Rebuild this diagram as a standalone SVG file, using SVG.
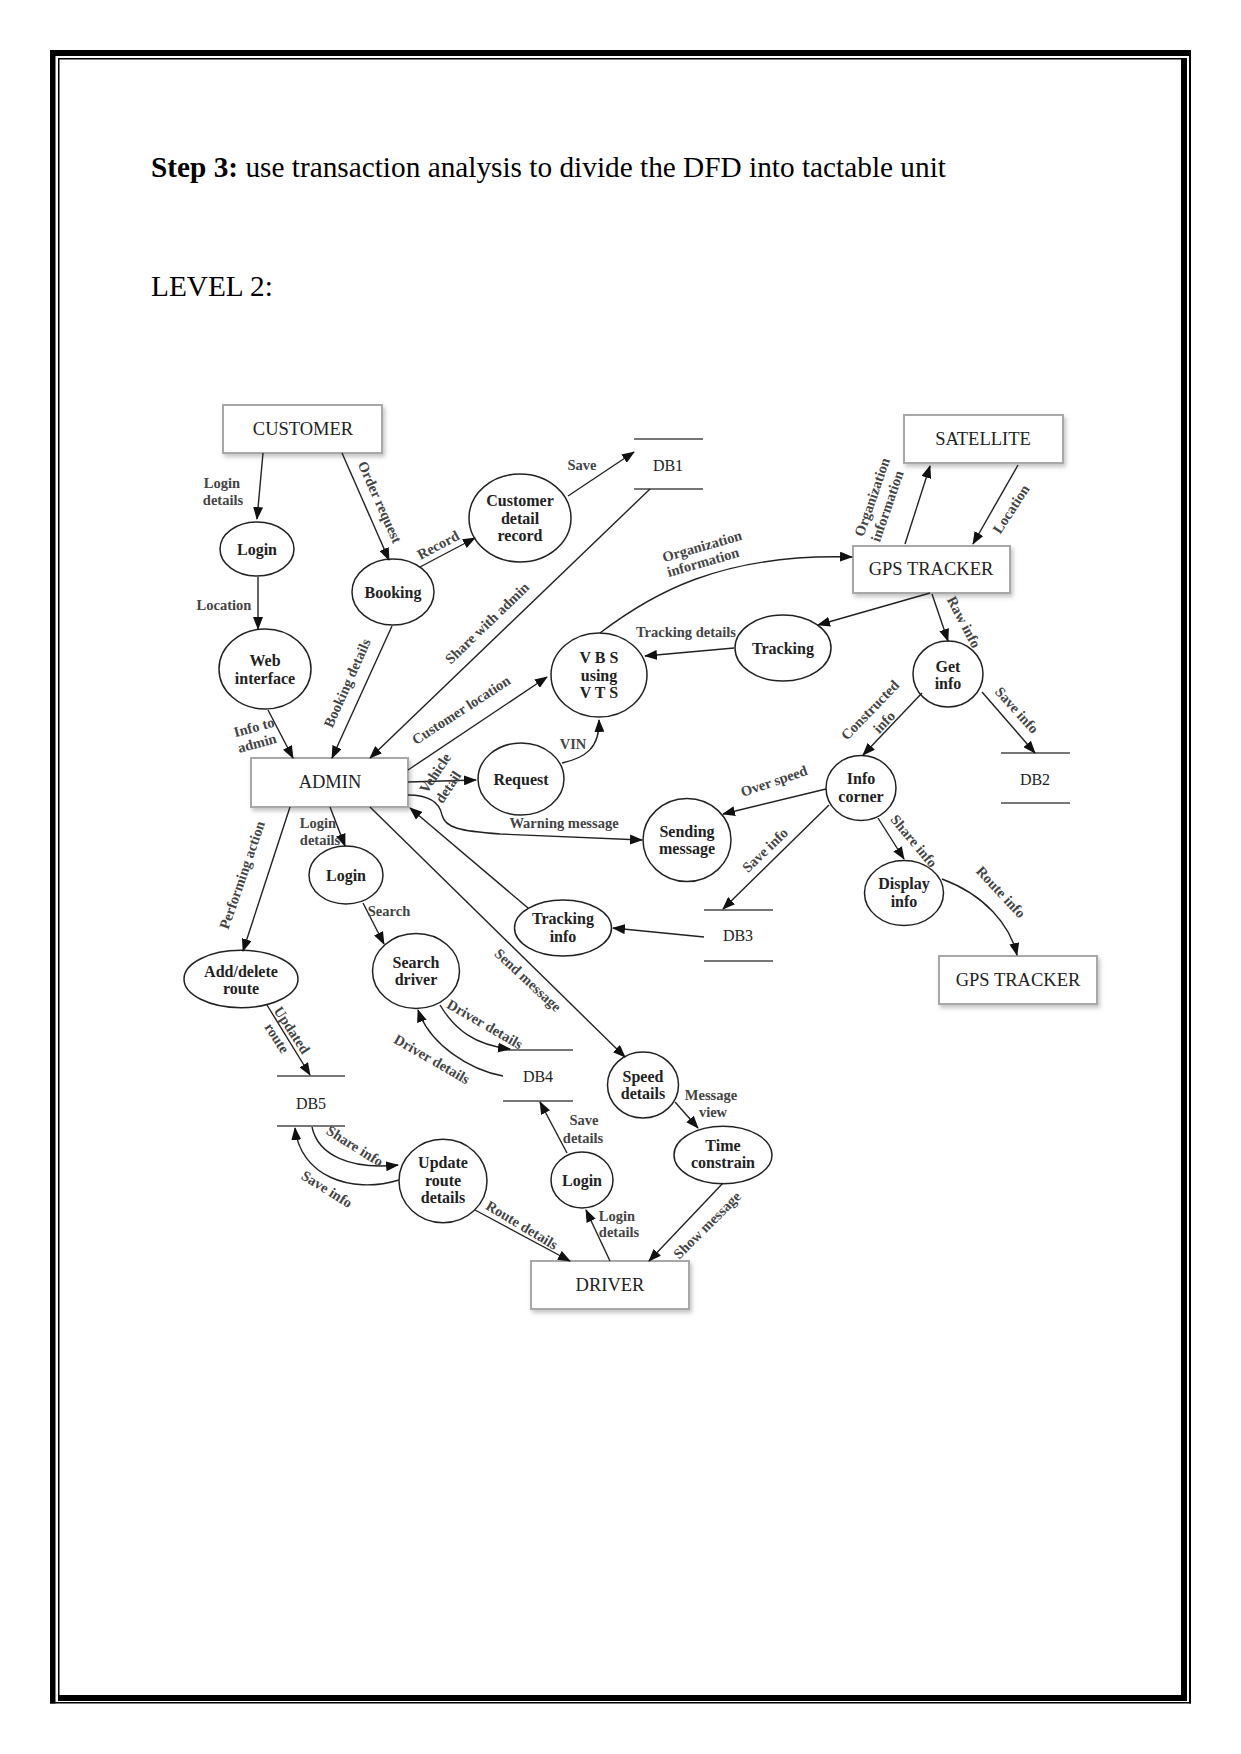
<svg xmlns="http://www.w3.org/2000/svg" width="1241" height="1754" viewBox="0 0 1241 1754">
<style>
.ent{fill:#fff;stroke:#a8a8a8;stroke-width:2;filter:url(#sh)}
.entt{font-family:"Liberation Serif",serif;font-size:18.5px;fill:#222;text-anchor:middle}
.pr{fill:#fff;stroke:#222;stroke-width:1.5}
.prt{font-family:"Liberation Serif",serif;font-size:16px;font-weight:bold;fill:#222;text-anchor:middle}
.ds{stroke:#777;stroke-width:2}
.dst{font-family:"Liberation Serif",serif;font-size:16px;fill:#222;text-anchor:middle}
.e{fill:none;stroke:#222;stroke-width:1.4;marker-end:url(#a)}
.lb{font-family:"Liberation Serif",serif;font-size:14.5px;font-weight:bold;fill:#444;text-anchor:middle}
.hd{font-family:"Liberation Serif",serif;font-size:29.3px;fill:#000}
</style>
<defs>
<marker id="a" markerWidth="13" markerHeight="10" refX="12" refY="5" orient="auto" markerUnits="userSpaceOnUse"><path d="M0,0 L13,5 L0,10 z" fill="#111"/></marker>
<filter id="sh" x="-10%" y="-20%" width="130%" height="160%"><feDropShadow dx="2" dy="3" stdDeviation="2" flood-color="#888" flood-opacity="0.5"/></filter>
</defs>
<rect width="1241" height="1754" fill="#fff"/>
<g id="border" fill="#000">
<rect x="50" y="50" width="1141" height="6"/>
<rect x="50" y="50" width="5.5" height="1653.5"/>
<rect x="1189" y="50" width="2" height="1653.5"/>
<rect x="50" y="1702" width="1141" height="1.5"/>
<rect x="58" y="58" width="1123" height="1.5"/>
<rect x="58" y="58" width="1.5" height="1637"/>
<rect x="1181" y="58" width="6" height="1643"/>
<rect x="58" y="1695" width="1129" height="6"/>
</g>
<text class="hd" x="151" y="177"><tspan font-weight="bold">Step 3:</tspan> use transaction analysis to divide the DFD into tactable unit</text>
<text class="hd" x="151" y="296">LEVEL 2:</text>

<g id="nodes">
<g id="customer"><rect class="ent" x="223" y="405" width="159" height="48"/><text class="entt" x="303" y="435">CUSTOMER</text></g>
<g id="satellite"><rect class="ent" x="904" y="415" width="159" height="48"/><text class="entt" x="983" y="445">SATELLITE</text></g>
<g id="gps1"><rect class="ent" x="853" y="546" width="157" height="47"/><text class="entt" x="931" y="575">GPS TRACKER</text></g>
<g id="admin"><rect class="ent" x="251" y="758" width="157" height="49"/><text class="entt" x="330" y="788">ADMIN</text></g>
<g id="gps2"><rect class="ent" x="939" y="956" width="158" height="48"/><text class="entt" x="1018" y="986">GPS TRACKER</text></g>
<g id="driver"><rect class="ent" x="531" y="1261" width="158" height="48"/><text class="entt" x="610" y="1291">DRIVER</text></g>

<g id="login1"><ellipse class="pr" cx="257" cy="549" rx="37" ry="27"/><text class="prt" x="257" y="554.5">Login</text></g>
<g id="web"><ellipse class="pr" cx="265" cy="669" rx="46" ry="40"/><text class="prt" x="265" y="665.5">Web</text><text class="prt" x="265" y="683.5">interface</text></g>
<g id="booking"><ellipse class="pr" cx="393" cy="592" rx="41" ry="33"/><text class="prt" x="393" y="597.5">Booking</text></g>
<g id="cdr"><ellipse class="pr" cx="520" cy="518" rx="51" ry="44"/><text class="prt" x="520" y="505.5">Customer</text><text class="prt" x="520" y="523.5">detail</text><text class="prt" x="520" y="540.5">record</text></g>
<g id="vbs"><ellipse class="pr" cx="599" cy="675" rx="48" ry="42"/><text class="prt" x="599" y="663">V B S</text><text class="prt" x="599" y="681">using</text><text class="prt" x="599" y="698">V T S</text></g>
<g id="request"><ellipse class="pr" cx="521" cy="779" rx="43" ry="36"/><text class="prt" x="521" y="784.5">Request</text></g>
<g id="tracking"><ellipse class="pr" cx="783" cy="648" rx="48" ry="33"/><text class="prt" x="783" y="653.5">Tracking</text></g>
<g id="getinfo"><ellipse class="pr" cx="948" cy="674" rx="35" ry="33"/><text class="prt" x="948" y="672">Get</text><text class="prt" x="948" y="689">info</text></g>
<g id="infocorner"><ellipse class="pr" cx="861" cy="788" rx="35" ry="32.5"/><text class="prt" x="861" y="784">Info</text><text class="prt" x="861" y="802">corner</text></g>
<g id="sending"><ellipse class="pr" cx="687" cy="840" rx="44" ry="41.5"/><text class="prt" x="687" y="837">Sending</text><text class="prt" x="687" y="854">message</text></g>
<g id="display"><ellipse class="pr" cx="904" cy="893" rx="39.5" ry="32.5"/><text class="prt" x="904" y="889">Display</text><text class="prt" x="904" y="907">info</text></g>
<g id="login2"><ellipse class="pr" cx="346" cy="875" rx="37" ry="29"/><text class="prt" x="346" y="880.5">Login</text></g>
<g id="search"><ellipse class="pr" cx="416" cy="971" rx="43.5" ry="37.5"/><text class="prt" x="416" y="968">Search</text><text class="prt" x="416" y="985">driver</text></g>
<g id="adddel"><ellipse class="pr" cx="241" cy="979" rx="57" ry="28.7"/><text class="prt" x="241" y="977">Add/delete</text><text class="prt" x="241" y="994">route</text></g>
<g id="trackinfo"><ellipse class="pr" cx="563" cy="928" rx="48.5" ry="28"/><text class="prt" x="563" y="924">Tracking</text><text class="prt" x="563" y="942">info</text></g>
<g id="speed"><ellipse class="pr" cx="643" cy="1085" rx="35.5" ry="33"/><text class="prt" x="643" y="1082">Speed</text><text class="prt" x="643" y="1099">details</text></g>
<g id="time"><ellipse class="pr" cx="723" cy="1155" rx="49" ry="28.7"/><text class="prt" x="723" y="1151">Time</text><text class="prt" x="723" y="1168">constrain</text></g>
<g id="login3"><ellipse class="pr" cx="582" cy="1180" rx="31" ry="28"/><text class="prt" x="582" y="1185.5">Login</text></g>
<g id="update"><ellipse class="pr" cx="443" cy="1181" rx="44" ry="41.7"/><text class="prt" x="443" y="1168">Update</text><text class="prt" x="443" y="1186">route</text><text class="prt" x="443" y="1203">details</text></g>

<g id="db1"><line class="ds" x1="634" y1="439" x2="703" y2="439"/><line class="ds" x1="634" y1="489" x2="703" y2="489"/><text class="dst" x="668" y="470.5">DB1</text></g>
<g id="db2"><line class="ds" x1="1001" y1="753" x2="1070" y2="753"/><line class="ds" x1="1001" y1="803" x2="1070" y2="803"/><text class="dst" x="1035" y="784.5">DB2</text></g>
<g id="db3"><line class="ds" x1="704" y1="910" x2="773" y2="910"/><line class="ds" x1="704" y1="961" x2="773" y2="961"/><text class="dst" x="738" y="940.5">DB3</text></g>
<g id="db4"><line class="ds" x1="503" y1="1050" x2="573" y2="1050"/><line class="ds" x1="503" y1="1101" x2="573" y2="1101"/><text class="dst" x="538" y="1081.5">DB4</text></g>
<g id="db5"><line class="ds" x1="277" y1="1076" x2="345" y2="1076"/><line class="ds" x1="277" y1="1126" x2="345" y2="1126"/><text class="dst" x="311" y="1108.5">DB5</text></g>
</g>

<g id="connectors">
<path class="e" d="M263,453 L257,519"/>
<text class="lb" x="222" y="488">Login</text><text class="lb" x="223" y="505">details</text>
<path class="e" d="M258,577 L258,629"/>
<text class="lb" x="224" y="610">Location</text>
<path class="e" d="M342,453 L389,560"/>
<text class="lb" transform="translate(380,502) rotate(66)" y="5">Order request</text>
<path class="e" d="M420,567 L475,538"/>
<text class="lb" transform="translate(438,545) rotate(-28)" y="5">Record</text>
<path class="e" d="M568,496 L634,452"/>
<text class="lb" x="582" y="470">Save</text>
<path class="e" d="M650,489 L370,758"/>
<text class="lb" transform="translate(487,623) rotate(-44)" y="5">Share with admin</text>
<path class="e" d="M392,626 L332,758"/>
<text class="lb" transform="translate(347,683) rotate(-66)" y="5">Booking details</text>
<path class="e" d="M268,710 L293,758"/>
<text class="lb" transform="translate(254,727) rotate(-15)" y="5">Info to</text>
<text class="lb" transform="translate(257,743) rotate(-15)" y="5">admin</text>
<path class="e" d="M408,770 L547,677"/>
<text class="lb" transform="translate(461,710) rotate(-33)" y="5">Customer location</text>
<path class="e" d="M562,763 C585,758 600,748 599,720"/>
<text class="lb" x="573" y="749">VIN</text>
<path class="e" d="M600,633 C650,595 720,553 852,557"/>
<text class="lb" transform="translate(702,546) rotate(-16)" y="5">Organization</text>
<text class="lb" transform="translate(703,562) rotate(-16)" y="5">information</text>
<path class="e" d="M734,648 L645,656"/>
<text class="lb" x="686" y="637">Tracking details</text>
<path class="e" d="M930,593 L818,625"/>
<path class="e" d="M932,594 L948,641"/>
<text class="lb" transform="translate(964,622) rotate(62)" y="5">Raw info</text>
<path class="e" d="M905,544 L930,466"/>
<text class="lb" transform="translate(872,497) rotate(-71)" y="5">Organization</text>
<text class="lb" transform="translate(887,506) rotate(-71)" y="5">information</text>
<path class="e" d="M1018,465 L973,544"/>
<text class="lb" transform="translate(1011,509) rotate(-57)" y="5">Location</text>
<path class="e" d="M922,693 L863,755"/>
<text class="lb" transform="translate(870,710) rotate(-46)" y="5">Constructed</text>
<text class="lb" transform="translate(884,722) rotate(-46)" y="5">info</text>
<path class="e" d="M982,692 L1035,753"/>
<text class="lb" transform="translate(1017,710) rotate(48)" y="5">Save info</text>
<path class="e" d="M826,789 L723,814"/>
<text class="lb" transform="translate(774,781) rotate(-19)" y="5">Over speed</text>
<path class="e" d="M829,805 L723,909"/>
<text class="lb" transform="translate(765,850) rotate(-44)" y="5">Save info</text>
<path class="e" d="M878,818 L904,859"/>
<text class="lb" transform="translate(914,841) rotate(50)" y="5">Share info</text>
<path class="e" d="M942,879 C985,895 1010,925 1017,955"/>
<text class="lb" transform="translate(1001,892) rotate(47)" y="5">Route info</text>
<path class="e" d="M704,937 L613,928"/>
<path class="e" d="M528,908 L410,808"/>
<path class="e" d="M408,782 L476,780"/>
<text class="lb" transform="translate(435,773) rotate(-56)" y="5">Vehicle</text>
<text class="lb" transform="translate(448,787) rotate(-56)" y="5">detail</text>
<path class="e" d="M408,795 C432,795 440,805 442,815 C445,828 460,831 500,834 L642,840"/>
<text class="lb" x="564" y="828">Warning message</text>
<path class="e" d="M330,807 L345,846"/>
<text class="lb" x="318" y="828">Login</text><text class="lb" x="320" y="845">details</text>
<path class="e" d="M290,807 L243,951"/>
<text class="lb" transform="translate(242,875) rotate(-71)" y="5">Performing action</text>
<path class="e" d="M363,903 L384,944"/>
<text class="lb" x="389" y="916">Search</text>
<path class="e" d="M370,807 L625,1057"/>
<text class="lb" transform="translate(528,980) rotate(43)" y="5">Send message</text>
<path class="e" d="M440,1005 C455,1030 475,1045 510,1049"/>
<text class="lb" transform="translate(485,1024) rotate(30)" y="5">Driver details</text>
<path class="e" d="M503,1076 C470,1070 430,1045 418,1010"/>
<text class="lb" transform="translate(432,1059) rotate(30)" y="5">Driver details</text>
<path class="e" d="M267,1005 L310,1075"/>
<text class="lb" transform="translate(292,1030) rotate(57)" y="5">Updated</text>
<text class="lb" transform="translate(277,1038) rotate(57)" y="5">route</text>
<path class="e" d="M312,1127 C318,1155 350,1170 398,1165"/>
<text class="lb" transform="translate(355,1146) rotate(32)" y="5">Share info</text>
<path class="e" d="M399,1180 C350,1195 300,1175 295,1128"/>
<text class="lb" transform="translate(327,1189) rotate(32)" y="5">Save info</text>
<path class="e" d="M475,1210 L570,1261"/>
<text class="lb" transform="translate(522,1225) rotate(31)" y="5">Route details</text>
<path class="e" d="M610,1261 L586,1210"/>
<text class="lb" x="617" y="1221">Login</text><text class="lb" x="619" y="1237">details</text>
<path class="e" d="M567,1153 L540,1102"/>
<text class="lb" x="584" y="1125">Save</text><text class="lb" x="583" y="1143">details</text>
<path class="e" d="M675,1102 L698,1128"/>
<text class="lb" x="711" y="1100">Message</text><text class="lb" x="713" y="1117">view</text>
<path class="e" d="M723,1183 L649,1261"/>
<text class="lb" transform="translate(707,1225) rotate(-45)" y="5">Show message</text>
</g>
</svg>
